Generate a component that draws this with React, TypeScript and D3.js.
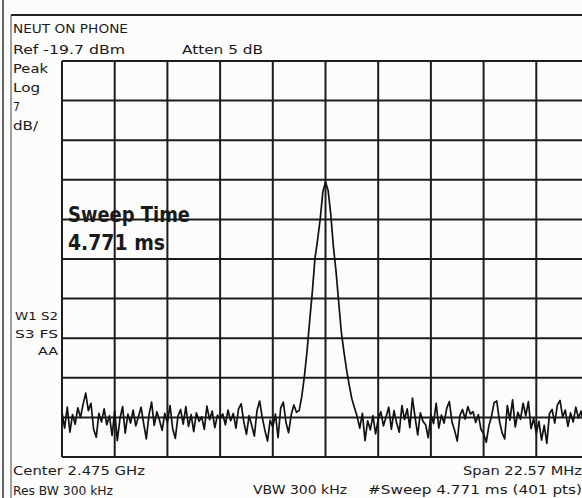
import React from "react";
import * as d3 from "d3";

// Spectrum analyzer screen: Ref -19.7 dBm, 7 dB/div, center 2.475 GHz, span 22.57 MHz
const refLevel = -19.7;
const dbPerDiv = 7;
const centerHz = 2.475e9;
const spanHz = 22.57e6;
const divisions = [0, 1, 2, 3, 4, 5, 6, 7, 8, 9, 10];

// trace amplitude in dBm, 201 points across the span
const traceDbm = [
  -81.8, -84.6, -80.9, -85.3, -82.2, -83.9, -81.0, -82.7, -80.4, -78.4,
  -81.5, -80.2, -84.8, -86.2, -82.0, -83.5, -81.2, -84.0, -82.4, -85.9,
  -81.6, -86.8, -82.9, -80.8, -85.5, -82.1, -83.7, -81.4, -84.2, -82.6,
  -80.9, -83.8, -86.5, -82.3, -80.0, -84.1, -81.7, -83.2, -85.0, -82.0,
  -83.6, -80.6, -84.7, -86.4, -82.5, -81.3, -83.9, -80.8, -84.3, -82.2,
  -85.2, -81.9, -83.4, -82.6, -84.8, -80.7, -83.1, -81.6, -84.5, -82.3,
  -83.0, -82.1, -84.0, -81.4, -83.3, -82.0, -84.6, -81.2, -80.3, -83.5,
  -85.7, -82.4, -84.1, -86.0, -81.5, -79.8, -82.7, -85.0, -86.9, -83.2,
  -84.4, -82.1, -86.3, -81.0, -80.0, -83.6, -85.4, -82.2, -80.5, -81.8,
  -81.5, -79.0, -75.4, -71.0, -65.6, -60.5, -54.6, -51.3, -47.6, -42.8,
  -41.1, -42.6, -46.8, -52.5, -56.9, -62.3, -67.6, -71.1, -74.3, -77.0,
  -79.4, -81.0, -82.5, -84.6, -82.0, -86.8, -83.3, -84.9, -82.4, -85.6,
  -83.0, -81.7, -84.2, -82.6, -80.9, -84.8, -81.5, -83.7, -85.3, -80.6,
  -83.1, -81.2, -84.5, -79.3, -82.7, -85.8, -81.9, -83.4, -84.0, -86.3,
  -82.2, -83.8, -80.2, -84.6, -82.3, -83.7, -81.1, -79.9, -83.5, -85.0,
  -86.9, -82.4, -81.3, -83.0, -80.8, -82.1, -81.7, -83.6, -82.2, -84.8,
  -85.6, -87.1, -84.2, -82.5, -80.1, -79.8, -83.3, -85.4, -86.5, -80.6,
  -83.2, -79.6, -84.4, -81.8, -83.0, -80.2, -82.4, -79.9, -84.7, -82.9,
  -85.5, -83.4, -86.7, -84.1, -87.3, -82.0, -81.3, -83.7, -80.5, -79.7,
  -82.6, -81.4, -84.3, -81.9, -83.5, -80.9, -82.8, -81.6, -83.9, -82.4,
  -84.0,
];

const screenFont = "'DejaVu Sans', sans-serif";

type Label = { text: string; x: number; y: number; w: number; size: number; bold?: boolean };

const labels: Label[] = [
  { text: "NEUT ON PHONE", x: 13, y: 33, w: 115, size: 12 },
  { text: "Ref -19.7 dBm", x: 13, y: 54, w: 112, size: 12 },
  { text: "Atten 5 dB", x: 182, y: 54, w: 81, size: 12 },
  { text: "Peak", x: 13, y: 73, w: 35, size: 12 },
  { text: "Log", x: 13, y: 92, w: 27, size: 12 },
  { text: "7", x: 13, y: 111, w: 7, size: 12 },
  { text: "dB/", x: 13, y: 130, w: 25, size: 12 },
  { text: "W1  S2", x: 15, y: 320, w: 43, size: 11 },
  { text: "S3  FS", x: 15, y: 338, w: 43, size: 11 },
  { text: "AA", x: 38, y: 355, w: 20, size: 11 },
  { text: "Sweep Time", x: 68, y: 222, w: 122, size: 21, bold: true },
  { text: "4.771 ms", x: 68, y: 250, w: 97, size: 21, bold: true },
  { text: "Center 2.475 GHz", x: 13, y: 475, w: 132, size: 12 },
  { text: "Res BW 300 kHz", x: 13, y: 495, w: 100, size: 12 },
  { text: "VBW 300 kHz", x: 253, y: 494, w: 94, size: 12 },
  { text: "Span 22.57 MHz", x: 463, y: 475, w: 119, size: 12 },
  { text: "#Sweep 4.771 ms (401 pts)", x: 368, y: 494, w: 214, size: 12 },
];

export default function App() {
  const width = 582;
  const height = 498;
  const left = 62;
  const top = 61;
  const gridW = 527;
  const gridH = 396;

  const x = d3
    .scaleLinear()
    .domain([centerHz - spanHz / 2, centerHz + spanHz / 2])
    .range([left, left + gridW]);
  const y = d3
    .scaleLinear()
    .domain([refLevel - dbPerDiv * 10, refLevel])
    .range([top + gridH, top]);

  const freqAt = (i: number) => centerHz - spanHz / 2 + (i * spanHz) / (traceDbm.length - 1);
  const line = d3
    .line<number>()
    .x((_, i) => x(freqAt(i)))
    .y((d) => y(d));

  const gridColor = "#1c1c1c";

  return (
    <svg
      width={width}
      height={height}
      style={{ position: "absolute", left: 0, top: 0, background: "#fcfcfa" }}
    >
      <defs>
        <clipPath id="screen">
          <rect x={left} y={top} width={gridW} height={gridH} />
        </clipPath>
      </defs>

      {/* frame */}
      <line x1={3} x2={3} y1={0} y2={height} stroke="#333" strokeWidth={1.5} />
      <line x1={11} x2={11} y1={15} y2={height} stroke="#444" strokeWidth={1} />
      <line x1={11} x2={width} y1={15} y2={15} stroke="#222" strokeWidth={2} />

      {/* graticule */}
      {divisions.map((k) => {
        const fx = x(centerHz - spanHz / 2 + (k * spanHz) / 10);
        return (
          <line key={"v" + k} x1={fx} x2={fx} y1={top} y2={top + gridH}
            stroke={gridColor} strokeWidth={2} />
        );
      })}
      {divisions.map((k) => {
        const gy = y(refLevel - k * dbPerDiv);
        return (
          <line key={"h" + k} x1={left} x2={left + gridW} y1={gy} y2={gy}
            stroke={gridColor} strokeWidth={2} />
        );
      })}

      {/* trace */}
      <path
        d={line(traceDbm) || ""}
        fill="none"
        stroke="#111"
        strokeWidth={1.7}
        strokeLinejoin="round"
        clipPath="url(#screen)"
      />

      {labels.map((l) => (
        <text
          key={l.text}
          x={l.x}
          y={l.y}
          fontFamily={screenFont}
          fontSize={l.size}
          fontWeight={l.bold ? "bold" : "normal"}
          fill="#1a1a1a"
          textLength={l.w}
          lengthAdjust="spacingAndGlyphs"
        >
          {l.text}
        </text>
      ))}
    </svg>
  );
}
